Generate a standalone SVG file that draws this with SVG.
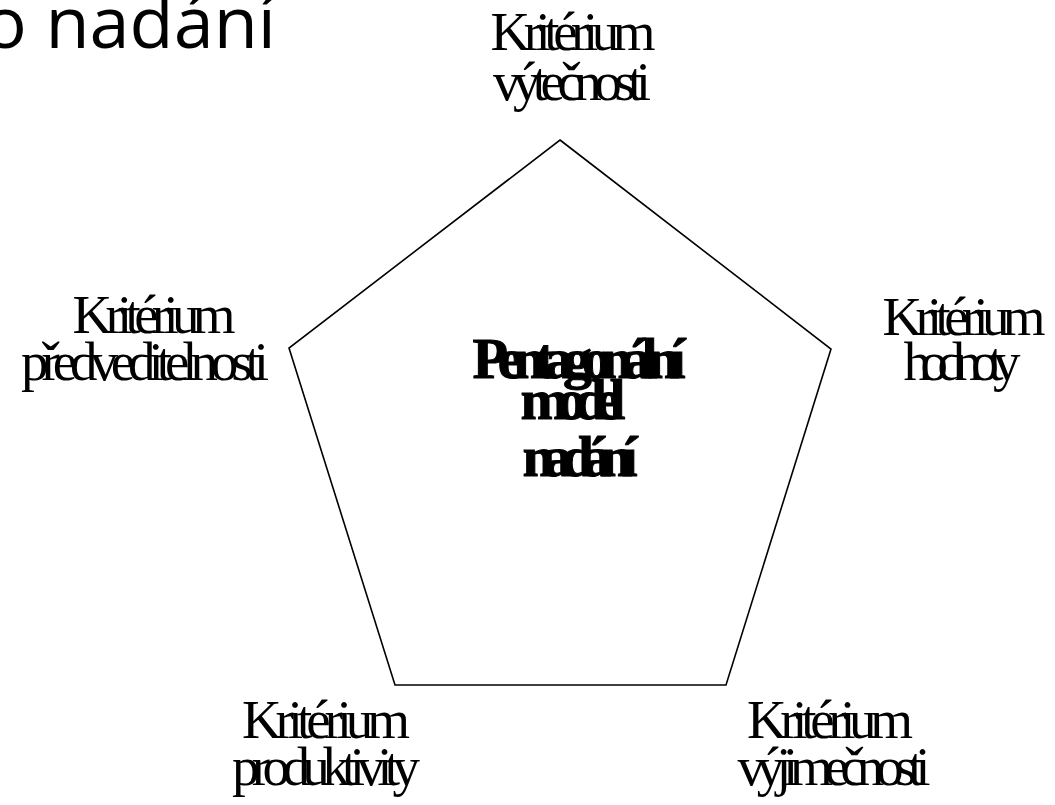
<svg xmlns="http://www.w3.org/2000/svg" width="1055" height="805" viewBox="0 0 1055 805">
<style>
.lbl{font-family:"Liberation Serif","Times New Roman",serif;font-size:55px;fill:#000;text-anchor:middle}
.ctr{font-family:"Liberation Serif","Times New Roman",serif;font-size:58px;font-weight:bold;fill:#000;stroke:#000;stroke-width:1;text-anchor:middle}
.title{font-family:"Open Sans","Noto Sans",sans-serif;font-size:72px;fill:#000}
</style>
<rect width="1055" height="805" fill="#fff"/>
<text class="title" x="276" y="48" text-anchor="end">o nadání</text>
<g id="connectors">
<polygon points="560,140 831,349 726,685 395,685 289,348" fill="none" stroke="#000" stroke-width="1.6"/>
</g>
<g id="center">
<text class="ctr" x="579" y="378" textLength="213" lengthAdjust="spacing">Pentagonální</text>
<text class="ctr" x="573" y="419" textLength="105" lengthAdjust="spacing">model</text>
<text class="ctr" x="580" y="476" textLength="115" lengthAdjust="spacing">nadání</text>
</g>
<g id="n-top">
<text class="lbl" x="573" y="50" textLength="165" lengthAdjust="spacing">Kritérium</text>
<text class="lbl" x="572" y="100" textLength="158" lengthAdjust="spacing">výtečnosti</text>
</g>
<g id="n-left">
<text class="lbl" x="154" y="333" textLength="163" lengthAdjust="spacing">Kritérium</text>
<text class="lbl" x="145" y="380" textLength="248" lengthAdjust="spacing">předveditelnosti</text>
</g>
<g id="n-right">
<text class="lbl" x="964" y="335" textLength="163" lengthAdjust="spacing">Kritérium</text>
<text class="lbl" x="962" y="380" textLength="117" lengthAdjust="spacing">hodnoty</text>
</g>
<g id="n-bottom-left">
<text class="lbl" x="326" y="738" textLength="168" lengthAdjust="spacing">Kritérium</text>
<text class="lbl" x="326" y="785" textLength="188" lengthAdjust="spacing">produktivity</text>
</g>
<g id="n-bottom-right">
<text class="lbl" x="830" y="738" textLength="166" lengthAdjust="spacing">Kritérium</text>
<text class="lbl" x="834" y="785" textLength="193" lengthAdjust="spacing">výjimečnosti</text>
</g>
</svg>
